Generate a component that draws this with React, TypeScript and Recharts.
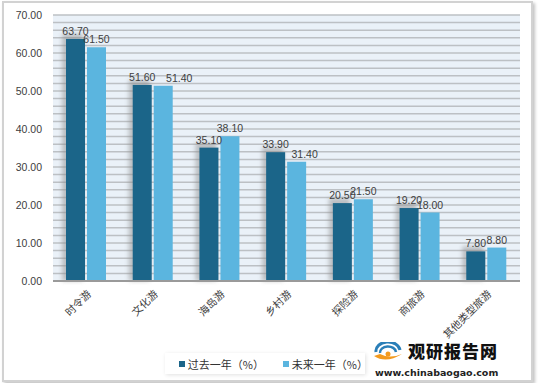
import React from 'react';
import { BarChart, Bar, XAxis, YAxis, CartesianGrid, Legend, LabelList, ReferenceLine } from 'recharts';

const categories = ['时令游', '文化游', '海岛游', '乡村游', '探险游', '商旅游', '其他类型旅游'];
const pastYear = [63.7, 51.6, 35.1, 33.9, 20.5, 19.2, 7.8];
const nextYear = [61.5, 51.4, 38.1, 31.4, 21.5, 18.0, 8.8];
const yTicks = [0, 10, 20, 30, 40, 50, 60, 70];
const gridValues = [2, 4, 6, 8, 10, 12, 14, 16, 18, 20, 22, 24, 26, 28, 30, 32, 34, 36, 38, 40, 42, 44, 46, 48, 50, 52, 54, 56, 58, 60, 62, 64, 66, 68, 70];

const seriesNames = ['过去一年（%）', '未来一年（%）'];
const colors = ['#1b6589', '#5bb5df'];

// horizontal nudge of the light-bar labels, as placed in the original
const nextLabelDx = [0, 16, 0, 8, 0, 0, 0];

const data = categories.map((name, i) => ({ name, past: pastYear[i], next: nextYear[i] }));

const numFont = '"Liberation Sans", Arial, sans-serif';
const cjkFont = '"Noto Sans CJK SC", sans-serif';

const XTick = (props: any) => {
  const { x, y, payload } = props;
  return (
    <g transform={`translate(${x},${y})`}>
      <text x={0} y={0} dy="0.75em" textAnchor="end" transform="rotate(-45)" fontSize={10.5} fill="#404040" fontFamily={cjkFont}>
        {payload.value}
      </text>
    </g>
  );
};

const NextLabel = (props: any) => {
  const { x, y, width, value, index } = props;
  return (
    <text x={x + width / 2 + (nextLabelDx[index] || 0)} y={y - 4} textAnchor="middle" fontSize={10.5} fill="#404040" fontFamily={numFont}>
      {Number(value).toFixed(2)}
    </text>
  );
};

const ShadowBar = (props: any) => {
  const { x, y, width, height, fill } = props;
  return (
    <g>
      <rect x={x - 4} y={y - 5} width={width + 2} height={height + 5} fill="#8c8c8c" opacity={0.5} style={{ filter: 'blur(2px)' }} />
      <rect x={x} y={y} width={width} height={height} fill={fill} />
    </g>
  );
};

const LegendBox = () => (
  <div style={{ width: 200, height: 21, background: '#fff', boxShadow: '1px 1px 4px rgba(0,0,0,0.12)', display: 'flex', alignItems: 'center', fontFamily: cjkFont, fontSize: 11, color: '#333' }}>
    {seriesNames.map((n, i) => (
      <div key={n} style={{ display: 'flex', alignItems: 'center', marginLeft: i === 0 ? 14 : 22 }}>
        <span style={{ width: 6, height: 6, background: colors[i], marginRight: 3 }} />
        <span>{n}</span>
      </div>
    ))}
  </div>
);

const Logo = () => (
  <div style={{ position: 'absolute', left: 372, top: 340, width: 135, height: 40 }}>
    <svg width={32} height={20} style={{ position: 'absolute', left: 0, top: 2 }}>
      <path d="M4 10 A12 9 0 0 1 28 8" stroke="#2a7fb8" strokeWidth={3} fill="none" />
      <path d="M8 11 A8 6 0 0 1 24 10" stroke="#2a7fb8" strokeWidth={2.5} fill="none" />
      <path d="M2 14 Q14 22 30 12 Q18 17 8 12 Z" fill="#f39a1e" />
      <circle cx={16} cy={12} r={2.5} fill="#f39a1e" />
    </svg>
    <div style={{ position: 'absolute', left: 36, top: 2, fontFamily: cjkFont, fontWeight: 900, fontSize: 17, lineHeight: '18px', color: '#111', letterSpacing: 1 }}>观研报告网</div>
    <div style={{ position: 'absolute', left: 3, top: 27, fontFamily: '"DejaVu Sans", sans-serif', fontWeight: 700, fontSize: 9.5, lineHeight: '12px', color: '#222' }}>www.chinabaogao.com</div>
  </div>
);

export default function App() {
  return (
    <div style={{ position: 'absolute', left: 0, top: 0, width: 540, height: 383, background: '#fff', overflow: 'hidden' }}>
      <div style={{ position: 'absolute', left: 2, top: 1, width: 527, height: 377, background: '#fff', border: '2px solid #d2d2d2', boxShadow: '2px 2px 3px #c4c4c4' }} />
      <div style={{ position: 'absolute', left: 0, top: 0 }}>
        <BarChart width={540} height={383} data={data} margin={{ top: 15, right: 20, bottom: 0, left: 0 }} barGap={2} barCategoryGap="20%">
          <CartesianGrid vertical={false} horizontal={false} fill="#eaf1f8" fillOpacity={1} />
          {gridValues.map((v) => (
            <ReferenceLine key={v} y={v} stroke="#bcc0c4" strokeWidth={1.5} zIndex={-50} />
          ))}
          <XAxis dataKey="name" height={102} interval={0} axisLine={{ stroke: '#9a9a9a', strokeWidth: 2 }} tickLine={false} tick={<XTick />} />
          <YAxis domain={[0, 70]} ticks={yTicks} width={53} axisLine={false} tickLine={false} tickMargin={5} tickFormatter={(v: number) => v.toFixed(2)} tick={{ fontSize: 10.5, fill: '#404040', fontFamily: numFont }} />
          <Legend layout="horizontal" verticalAlign="middle" align="center" wrapperStyle={{ position: 'absolute', left: 165, top: 353, width: 200, height: 21 }} content={() => <LegendBox />} />
          <Bar dataKey="past" name={seriesNames[0]} fill={colors[0]} barSize={19} isAnimationActive={false} shape={<ShadowBar />}>
            <LabelList dataKey="past" position="top" offset={4} formatter={(v: any) => Number(v).toFixed(2)} style={{ fontSize: 10.5, fill: '#404040', fontFamily: numFont }} />
          </Bar>
          <Bar dataKey="next" name={seriesNames[1]} fill={colors[1]} barSize={19} isAnimationActive={false}>
            <LabelList dataKey="next" content={<NextLabel />} />
          </Bar>
        </BarChart>
      </div>
      <Logo />
    </div>
  );
}
